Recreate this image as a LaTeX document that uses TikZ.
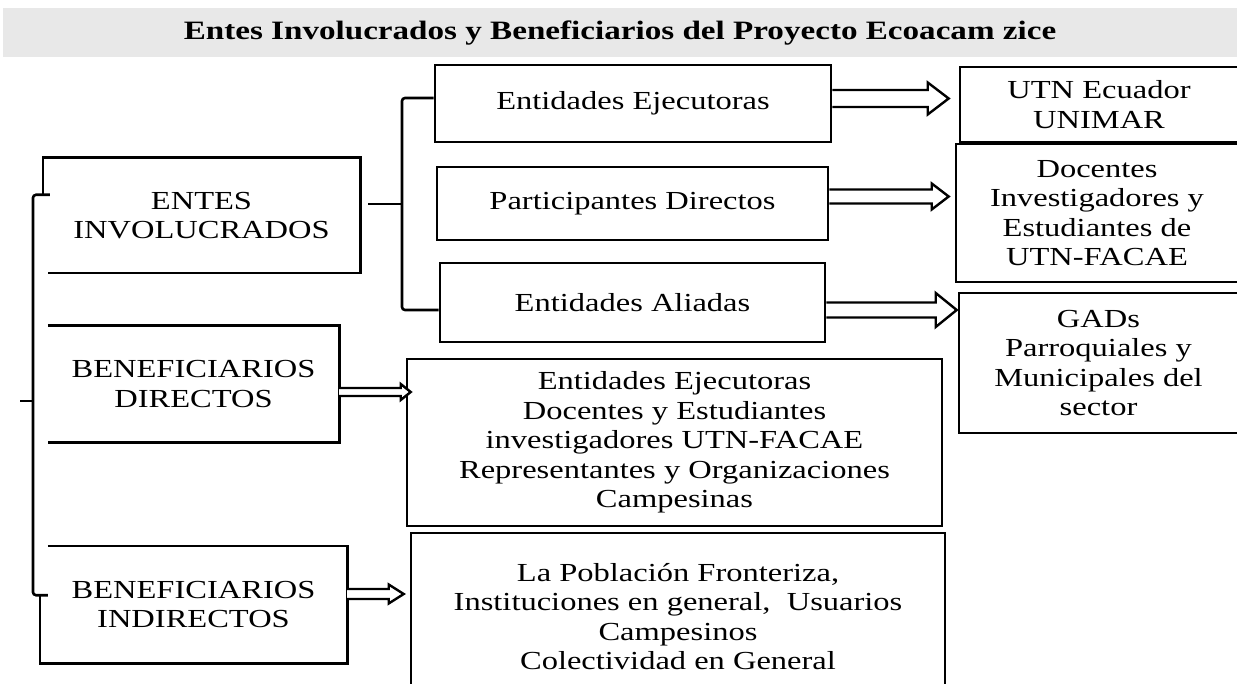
\documentclass[tikz,border=0pt]{standalone}
\usepackage{fontspec}
\setmainfont{Liberation Serif}[FakeStretch=1.25]
\usetikzlibrary{calc}

\tikzset{
  box/.style={draw, line width=2.6pt, align=center, inner sep=0pt},
  lbl/.style={align=center, inner sep=0pt},
  lin/.style={line width=2.6pt},
  harrow/.style={line width=2.4pt, fill=white, line join=miter}
}
% flecha hueca: inicio, punta, medio ancho, medio ancho punta, largo punta
\newcommand{\hollowarr}[5]{%
  \draw[harrow] ([yshift=#3]#1) -- ([xshift=-#5,yshift=#3]#2) -- ([xshift=-#5,yshift=#4]#2) -- (#2)
    -- ([xshift=-#5,yshift=-#4]#2) -- ([xshift=-#5,yshift=-#3]#2) -- ([yshift=-#3]#1);}

\begin{document}
\begin{tikzpicture}[x=1pt, y=-1pt, font=\fontsize{26}{29.5}\selectfont]
\useasboundingbox (0,0) rectangle (1237,684);
\clip (0,0) rectangle (1237,684);

% titulo
\fill[gray!18] (3,8) rectangle (1237,57);
\node[font=\fontsize{26.5}{29}\selectfont\bfseries] (titulo) at (620,33) {Entes Involucrados y Beneficiarios del Proyecto Ecoacam zice};

% columna izquierda
\node[lbl, minimum width=317, minimum height=115] (entes) at (201.5,215.5) {ENTES\\INVOLUCRADOS};
\node[lbl, minimum width=291, minimum height=116] (bdir) at (193.5,384) {BENEFICIARIOS\\DIRECTOS};
\node[lbl, minimum width=307, minimum height=117] (bind) at (193.5,604.5) {BENEFICIARIOS\\INDIRECTOS};

\draw[lin] ([yshift=-37]entes.north west) -- (entes.north west) -- (entes.north east)
  -- (entes.south east) -- ([xshift=5]entes.south west);
\draw[lin] (bdir.north west) -- (bdir.north east) -- (bdir.south east) -- (bdir.south west);
\draw[lin] ([xshift=8]bind.north west) -- (bind.north east) -- (bind.south east)
  -- (bind.south west) -- ([yshift=68]bind.south west);

% llave izquierda
\coordinate (llave) at (33,401);
\draw[lin, rounded corners=3] ([xshift=7,yshift=-37]entes.north west) -| (llave)
  |- ([xshift=8,yshift=68]bind.south west);
\draw[lin] (llave) -- ++(-13,0);

% columna central
\node[box, minimum width=396, minimum height=77] (eje) at (633,103.5) {Entidades Ejecutoras};
\node[box, minimum width=391, minimum height=73] (par) at (632.5,203.5) {Participantes Directos};
\node[box, minimum width=385, minimum height=79] (ali) at (632.5,302.5) {Entidades Aliadas};

% llave central
\coordinate (llave2) at (402,204);
\draw[lin, rounded corners=3] ([yshift=5.5]eje.west) -| (llave2) |- ([yshift=-7.5]ali.west);
\draw[lin] ([xshift=8]entes.east |- llave2) -- (llave2);

% columna derecha
\node[box, minimum width=278, minimum height=75] (utn) at (1099,104.5) {UTN Ecuador\\UNIMAR};
\node[box, minimum width=282, minimum height=138] (doc) at (1097,213)
  {Docentes\\Investigadores y\\Estudiantes de\\UTN-FACAE};
\node[box, minimum width=279, minimum height=140] (gad) at (1098.5,363)
  {GADs\\Parroquiales y\\Municipales del\\sector};

% beneficiarios
\node[box, minimum width=535, minimum height=167] (lbd) at (674.5,442.5)
  {Entidades Ejecutoras\\Docentes y Estudiantes\\investigadores UTN-FACAE\\Representantes y Organizaciones\\Campesinas};
\node[box, minimum width=534, minimum height=167] (lbi) at (678,616.5)
  {La Población Fronteriza,\\Instituciones en general,\ \ Usuarios\\Campesinos\\Colectividad en General};

% flechas
\coordinate (a1) at (eje.east |- 0,98.5);
\coordinate (b1) at ($(utn.west |- a1)+(-10,0)$);
\coordinate (a2) at (par.east |- 0,196.5);
\coordinate (b2) at ($(doc.west |- a2)+(-6,0)$);
\coordinate (a3) at (ali.east |- 0,310);
\coordinate (b3) at ($(gad.west |- a3)+(-1,0)$);
\coordinate (a4) at (bdir.east |- 0,392);
\coordinate (b4) at ($(lbd.west |- a4)+(5,0)$);
\coordinate (a5) at (bind.east |- 0,594);
\coordinate (b5) at ($(lbi.west |- a5)+(-6,0)$);

\hollowarr{a1}{b1}{8.5}{16}{21}
\hollowarr{a2}{b2}{7}{13}{17}
\hollowarr{a3}{b3}{7.5}{17}{21}
\hollowarr{a4}{b4}{4}{8}{10}
\hollowarr{a5}{b5}{5}{9.5}{15}
\end{tikzpicture}
\end{document}
